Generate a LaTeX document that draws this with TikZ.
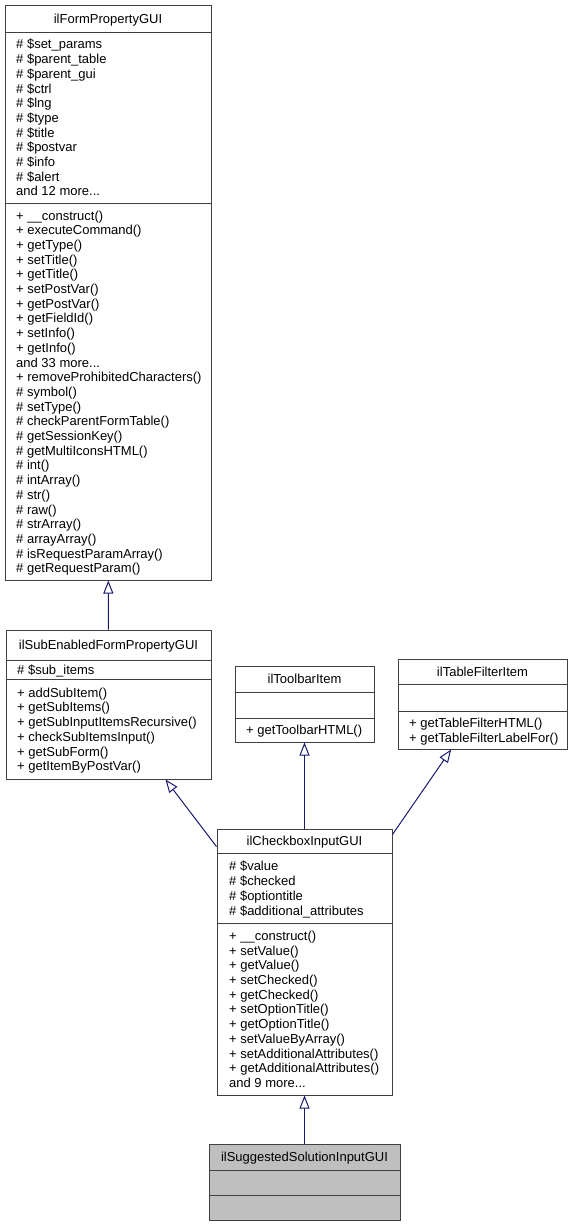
\documentclass[tikz,border=0pt]{standalone}
\usepackage{fontspec}
\setmainfont{Liberation Sans}
\usetikzlibrary{arrows.meta}
\definecolor{edgeblue}{HTML}{191970}
\definecolor{boxgray}{HTML}{BFBFBF}

\begin{document}
\begin{tikzpicture}[x=1pt,y=-1pt,
cls/.style={rectangle, draw=black!75, line width=1pt, fill=white, inner sep=0pt},
sel/.style={cls, fill=boxgray},
ttl/.style={inner sep=0pt, text height=9.3pt, text depth=0pt, font=\fontsize{13}{14.7}\selectfont},
mem/.style={anchor=west, align=left, inner sep=0pt, yshift=-2pt, font=\fontsize{13}{14.7}\selectfont},
sep/.style={draw=black!75, line width=1pt},
inh/.style={draw=edgeblue, line width=1pt, -{Triangle[open, length=13pt, width=10pt]}}]

\useasboundingbox (0,0) rectangle (574,1227);

% class boxes
\draw (108,292.5) node[cls, minimum width=206pt, minimum height=575pt] (FormProp) {};
\draw (108.5,704.5) node[cls, minimum width=205pt, minimum height=149pt] (SubEn) {};
\draw (304.5,704) node[cls, minimum width=139pt, minimum height=76pt] (Toolbar) {};
\draw (482.5,704) node[cls, minimum width=169pt, minimum height=90pt] (TabFilter) {};
\draw (304.5,962) node[cls, minimum width=175pt, minimum height=266pt] (Check) {};
\draw (304.5,1182) node[sel, minimum width=191pt, minimum height=76pt] (Sugg) {};

% compartments
\draw[sep] (5,32) -- (211,32);
\draw[sep] (5,203) -- (211,203);
\draw[sep] (6,660) -- (211,660);
\draw[sep] (6,679) -- (211,679);
\draw[sep] (235,692) -- (374,692);
\draw[sep] (235,718) -- (374,718);
\draw[sep] (398,684) -- (567,684);
\draw[sep] (398,711) -- (567,711);
\draw[sep] (217,853) -- (392,853);
\draw[sep] (217,923) -- (392,923);
\draw[sep] (209,1170) -- (400,1170);
\draw[sep] (209,1195) -- (400,1195);

% names
\draw (108,18.5) node[ttl] (FormPropT) {ilFormPropertyGUI};
\draw (108.5,645) node[ttl] (SubEnT) {ilSubEnabledFormPropertyGUI};
\draw (304.5,679) node[ttl] (ToolbarT) {ilToolbarItem};
\draw (482.5,671.5) node[ttl] (TabFilterT) {ilTableFilterItem};
\draw (304.5,841) node[ttl] (CheckT) {ilCheckboxInputGUI};
\draw (304.5,1157) node[ttl] (SuggT) {ilSuggestedSolutionInputGUI};

% members
\draw (16,117.5) node[mem] (FormPropA) {\strut\# \$set\_params\\ \# \$parent\_table\\ \# \$parent\_gui\\ \# \$ctrl\\ \# \$lng\\ \# \$type\\ \# \$title\\ \# \$postvar\\ \# \$info\\ \# \$alert\\ and 12 more...\strut};
\draw (16,391.5) node[mem] (FormPropM) {\strut+ \_\_construct()\\ + executeCommand()\\ + getType()\\ + setTitle()\\ + getTitle()\\ + setPostVar()\\ + getPostVar()\\ + getFieldId()\\ + setInfo()\\ + getInfo()\\ and 33 more...\\ + removeProhibitedCharacters()\\ \# symbol()\\ \# setType()\\ \# checkParentFormTable()\\ \# getSessionKey()\\ \# getMultiIconsHTML()\\ \# int()\\ \# intArray()\\ \# str()\\ \# raw()\\ \# strArray()\\ \# arrayArray()\\ \# isRequestParamArray()\\ \# getRequestParam()\strut};
\draw (17,669.5) node[mem] (SubEnA) {\strut\# \$sub\_items\strut};
\draw (17,729) node[mem] (SubEnM) {\strut+ addSubItem()\\ + getSubItems()\\ + getSubInputItemsRecursive()\\ + checkSubItemsInput()\\ + getSubForm()\\ + getItemByPostVar()\strut};
\draw (246,730) node[mem] (ToolbarM) {\strut+ getToolbarHTML()\strut};
\draw (409,730) node[mem] (TabFilterM) {\strut+ getTableFilterHTML()\\ + getTableFilterLabelFor()\strut};
\draw (229,888) node[mem] (CheckA) {\strut\# \$value\\ \# \$checked\\ \# \$optiontitle\\ \# \$additional\_attributes\strut};
\draw (229,1009) node[mem] (CheckM) {\strut+ \_\_construct()\\ + setValue()\\ + getValue()\\ + setChecked()\\ + getChecked()\\ + setOptionTitle()\\ + getOptionTitle()\\ + setValueByArray()\\ + setAdditionalAttributes()\\ + getAdditionalAttributes()\\ and 9 more...\strut};

% inheritance
\draw[inh] (SubEn) -- (FormProp);
\draw[inh] (Check) -- (SubEn);
\draw[inh] (Check) -- (Toolbar);
\draw[inh] (Check) -- (TabFilter);
\draw[inh] (Sugg) -- (Check);

\end{tikzpicture}
\end{document}
